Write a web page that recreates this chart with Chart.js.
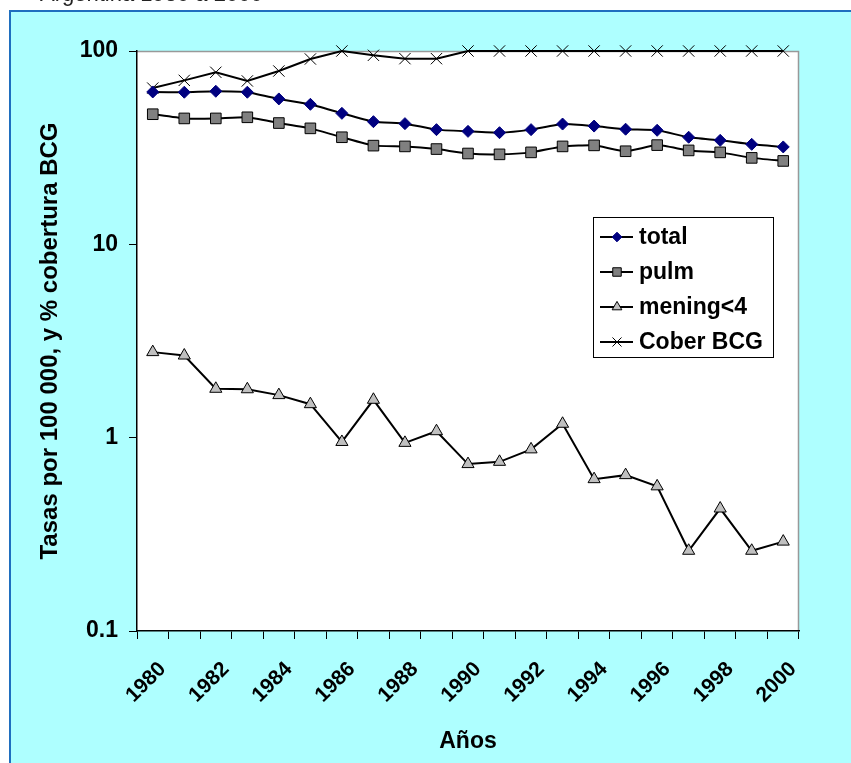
<!DOCTYPE html>
<html>
<head>
<meta charset="utf-8">
<title>Tuberculosis Argentina 1980-2000</title>
<script src="https://cdn.jsdelivr.net/npm/chart.js@4.4.1/dist/chart.umd.min.js"></script>
<style>
  html, body { margin: 0; padding: 0; background: #fff; }
  #wrap { width: 851px; height: 763px; position: relative; overflow: hidden; }
</style>
</head>
<body>
<div id="wrap"><canvas id="tbChart" width="851" height="763"></canvas></div>
<script>
// values (log scale)
const pageTitle = "Argentina 1980 a 2000";
const years = ["1980", "1981", "1982", "1983", "1984", "1985", "1986", "1987", "1988", "1989", "1990",
               "1991", "1992", "1993", "1994", "1995", "1996", "1997", "1998", "1999", "2000"];
const total = [61.4, 61.2, 61.9, 61.2, 56.5, 53.0, 47.6, 43.1, 42.1, 39.2, 38.4,
               37.8, 39.2, 41.9, 40.9, 39.4, 38.9, 35.8, 34.5, 32.9, 31.9];
const pulm = [47.1, 44.8, 44.8, 45.4, 42.4, 39.8, 35.8, 32.4, 32.1, 31.1, 29.5,
              29.2, 29.9, 32.1, 32.5, 30.3, 32.6, 30.6, 29.9, 28.0, 27.0];
const mening = [2.77, 2.66, 1.79, 1.78, 1.66, 1.49, 0.95, 1.57, 0.94, 1.08, 0.73,
                0.75, 0.87, 1.18, 0.61, 0.64, 0.56, 0.26, 0.43, 0.26, 0.29];
const coberBCG = [64.3, 70.5, 77.6, 70.0, 78.8, 90.9, 100, 95.0, 91.3, 91.3, 100,
                  100, 100, 100, 100, 100, 100, 100, 100, 100, 100];
const yTicks = [0.1, 1, 10, 100];
const yTickLabels = ["0.1", "1", "10", "100"];
const seriesNames = ["total", "pulm", "mening<4", "Cober BCG"];

const FONT = '"Liberation Sans", Arial, sans-serif';

// cyan panel, blue frame, white plot area
const framePlugin = {
    id: "frame",
    beforeDraw(chart) {
        const ctx = chart.ctx;
        const a = chart.chartArea;
        ctx.save();
        ctx.fillStyle = "#ffffff";
        ctx.fillRect(0, 0, chart.width, chart.height);
        ctx.fillStyle = "#AEFFFF";
        ctx.fillRect(10, 11, chart.width, chart.height);
        ctx.strokeStyle = "#1F6FBF";
        ctx.lineWidth = 2;
        ctx.strokeRect(10, 11, chart.width + 20, chart.height + 20);
        ctx.font = "22px " + FONT;
        ctx.fillStyle = "#222";
        ctx.textBaseline = "alphabetic";
        ctx.fillText(pageTitle, 40, 1);
        ctx.fillStyle = "#ffffff";
        ctx.fillRect(a.left, a.top, a.right - a.left, a.bottom - a.top);
        ctx.strokeStyle = "#999999";
        ctx.lineWidth = 1.5;
        ctx.beginPath();
        ctx.moveTo(a.left, a.top + 0.5);
        ctx.lineTo(a.right - 0.5, a.top + 0.5);
        ctx.lineTo(a.right - 0.5, a.bottom);
        ctx.stroke();
        ctx.restore();
    }
};

// Excel-like boxed legend inside the plot
const boxLegendPlugin = {
    id: "boxLegend",
    afterDraw(chart) {
        const ctx = chart.ctx;
        const a = chart.chartArea;
        const bx = a.left + 456, by = a.top + 166, bw = 180, bh = 140;
        ctx.save();
        ctx.fillStyle = "#ffffff";
        ctx.fillRect(bx, by, bw, bh);
        ctx.strokeStyle = "#000";
        ctx.lineWidth = 1;
        ctx.strokeRect(bx + 0.5, by + 0.5, bw, bh);
        chart.data.datasets.forEach((ds, i) => {
            const cy = by + 20 + i * 35;
            ctx.strokeStyle = ds.borderColor;
            ctx.lineWidth = 2;
            ctx.beginPath();
            ctx.moveTo(bx + 7, cy);
            ctx.lineTo(bx + 40, cy);
            ctx.stroke();
            ctx.fillStyle = ds.pointBackgroundColor;
            ctx.strokeStyle = ds.pointBorderColor;
            ctx.lineWidth = ds.pointBorderWidth;
            Chart.helpers.drawPoint(ctx, {
                pointStyle: ds.pointStyle,
                radius: ds.pointRadius * 0.8,
                rotation: 0,
                borderWidth: ds.pointBorderWidth
            }, bx + 24, cy);
            ctx.fillStyle = "#000";
            ctx.font = "bold 23px " + FONT;
            ctx.textBaseline = "middle";
            ctx.fillText(ds.label, bx + 46, cy + 1);
        });
        ctx.restore();
    }
};

const ctx = document.getElementById("tbChart").getContext("2d");
const tbChart = new Chart(ctx, {
    type: "line",
    data: {
        labels: years,
        datasets: [{
            label: seriesNames[0],
            data: total,
            borderColor: "#000000",
            borderWidth: 2,
            pointStyle: "rectRot",
            pointRadius: 6,
            pointBackgroundColor: "#000080",
            pointBorderColor: "#000080",
            pointBorderWidth: 1,
            tension: 0.15,
            clip: false
        }, {
            label: seriesNames[1],
            data: pulm,
            borderColor: "#000000",
            borderWidth: 2,
            pointStyle: "rect",
            pointRadius: 7.5,
            pointBackgroundColor: "#808080",
            pointBorderColor: "#000000",
            pointBorderWidth: 1,
            tension: 0.15,
            clip: false
        }, {
            label: seriesNames[2],
            data: mening,
            borderColor: "#000000",
            borderWidth: 2,
            pointStyle: "triangle",
            pointRadius: 7,
            pointBackgroundColor: "#C0C0C0",
            pointBorderColor: "#000000",
            pointBorderWidth: 1,
            tension: 0,
            clip: false
        }, {
            label: seriesNames[3],
            data: coberBCG,
            borderColor: "#000000",
            borderWidth: 2,
            pointStyle: "crossRot",
            pointRadius: 8,
            pointBackgroundColor: "#000000",
            pointBorderColor: "#000000",
            pointBorderWidth: 1,
            tension: 0,
            clip: false
        }]
    },
    options: {
        responsive: false,
        animation: false,
        devicePixelRatio: 1,
        layout: { padding: { left: 0, top: 51, right: 52, bottom: 0 } },
        plugins: {
            legend: { display: false },
            tooltip: { enabled: false }
        },
        scales: {
            x: {
                type: "category",
                offset: true,
                afterFit: (scale) => { scale.height = 132; },
                grid: {
                    display: true,
                    offset: true,
                    drawOnChartArea: false,
                    drawTicks: true,
                    tickLength: 8,
                    color: "#000"
                },
                border: { display: true, color: "#000", width: 1.5 },
                ticks: {
                    autoSkip: false,
                    minRotation: 45,
                    maxRotation: 45,
                    padding: 18,
                    labelOffset: 10,
                    color: "#000",
                    font: { family: FONT, size: 21, weight: "bold" },
                    callback: function (value, index) {
                        return index % 2 === 0 ? this.getLabelForValue(value) : "";
                    }
                },
                title: {
                    display: true,
                    text: "Años",
                    color: "#000",
                    font: { family: FONT, size: 23, weight: "bold" },
                    padding: { top: 0, bottom: 8 }
                }
            },
            y: {
                type: "logarithmic",
                min: 0.1,
                max: 100,
                afterFit: (scale) => { scale.width = 137; },
                afterBuildTicks: (scale) => {
                    scale.ticks = yTicks.map(v => ({ value: v }));
                },
                grid: {
                    display: true,
                    drawOnChartArea: false,
                    drawTicks: true,
                    tickLength: 8,
                    color: "#000"
                },
                border: { display: true, color: "#000", width: 1.5 },
                ticks: {
                    padding: 11,
                    color: "#000",
                    font: { family: FONT, size: 23, weight: "bold" },
                    callback: (value) => {
                        const i = yTicks.indexOf(value);
                        return i >= 0 ? yTickLabels[i] : "";
                    }
                },
                title: {
                    display: true,
                    text: "Tasas por 100 000, y % cobertura BCG",
                    color: "#000",
                    font: { family: FONT, size: 24, weight: "bold" },
                    padding: { top: 36, bottom: 0 }
                }
            }
        }
    },
    plugins: [framePlugin, boxLegendPlugin]
});
</script>
</body>
</html>
